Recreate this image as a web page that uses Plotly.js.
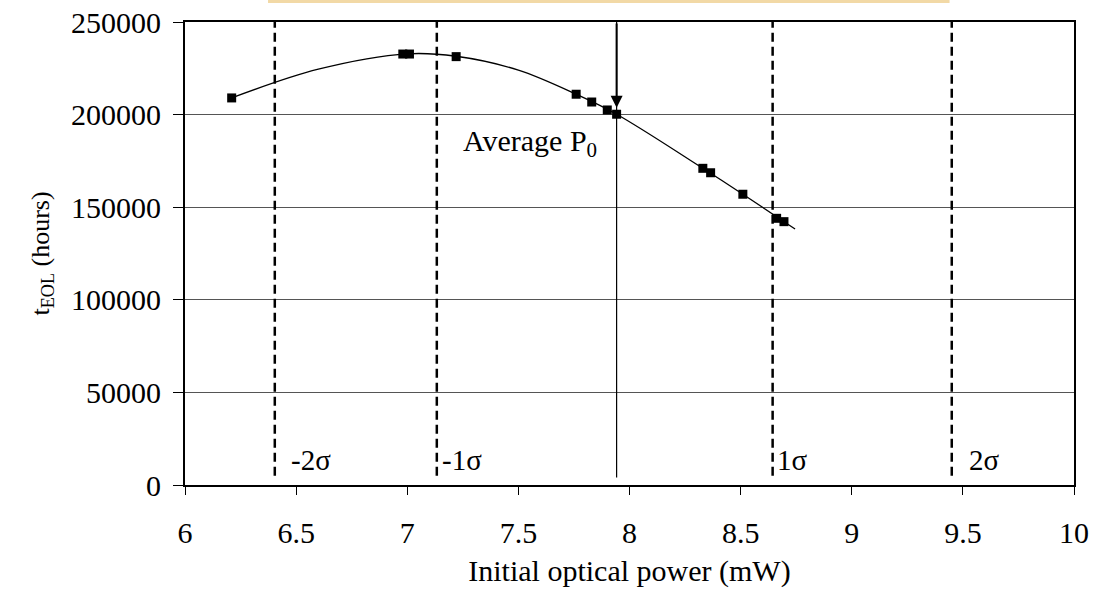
<!DOCTYPE html>
<html>
<head>
<meta charset="utf-8">
<script src="https://cdn.plot.ly/plotly-3.0.1.min.js"></script>
<style>html,body{margin:0;padding:0;background:#fff;}#chart{width:1101px;height:590px;}</style>
</head>
<body>
<div id="chart"></div>
<script>
// Measured data points (initial optical power in mW, t_EOL in hours)
var powerX = [6.21, 6.98, 7.01, 7.22, 7.76, 7.83, 7.90, 7.942, 8.33, 8.365, 8.51, 8.662, 8.695];
var teolY  = [209000, 232700, 232700, 231300, 211000, 206800, 202500, 200200, 171000, 168600, 157000, 144000, 142200];

// Smoothed fit curve
var curveX = [6.21, 6.6, 7.0, 7.22, 7.5, 7.76, 7.942, 8.33, 8.51, 8.745];
var curveY = [209000, 224500, 232800, 231500, 224000, 211000, 200200, 171000, 157000, 138200];

// Sigma boundaries
var sigmaX = [6.404, 7.133, 8.644, 9.45];
var sigmaLabels = ["-2σ", "-1σ", "1σ", "2σ"];
var sigmaLabelX = [6.47, 7.147, 8.655, 9.52];

// Average P0
var avgP0 = 7.942;
var avgArrowTip = 203700;
var yTop = 250000;

var FONT = "Liberation Serif, Times New Roman, serif";
var FS = 30;

var traces = [];
traces.push({x: curveX, y: curveY, mode: "lines", line: {color: "#000", width: 1.3, shape: "spline", smoothing: 1}, hoverinfo: "skip"});
sigmaX.forEach(function (sx) {
  traces.push({x: [sx, sx], y: [5000, yTop], mode: "lines", line: {color: "#000", width: 2.5, dash: "9px,5px"}, hoverinfo: "skip"});
});
traces.push({x: [avgP0, avgP0], y: [4000, yTop], mode: "lines", line: {color: "#000", width: 1.2}, hoverinfo: "skip"});
traces.push({x: powerX, y: teolY, mode: "markers", marker: {symbol: "square", size: 9, color: "#000"}});

var annotations = sigmaLabels.map(function (t, i) {
  return {x: sigmaLabelX[i], y: 13500, xref: "x", yref: "y", text: t, showarrow: false, xanchor: "left", yanchor: "middle", font: {family: FONT, size: 29, color: "#000"}};
});
annotations.push({x: 7.24, y: 184500, xref: "x", yref: "y", text: "Average P<sub>0</sub>", showarrow: false, xanchor: "left", yanchor: "middle", font: {family: FONT, size: FS, color: "#000"}});
annotations.push({x: avgP0, y: avgArrowTip, ax: avgP0, ay: yTop, xref: "x", yref: "y", axref: "x", ayref: "y", text: "", showarrow: true, arrowhead: 2, arrowsize: 1.2, arrowwidth: 2, arrowcolor: "#000"});

var layout = {
  width: 1101, height: 590,
  margin: {l: 185, r: 27, t: 22, b: 105},
  paper_bgcolor: "#fff", plot_bgcolor: "#fff",
  showlegend: false,
  font: {family: FONT, size: FS, color: "#000"},
  xaxis: {
    range: [6, 10], dtick: 0.5, tick0: 6, showgrid: false, zeroline: false,
    showline: true, linecolor: "#000", linewidth: 2, mirror: true,
    ticks: "outside", ticklen: 8, tickcolor: "#000", tickwidth: 1,
    ticklabelstandoff: 12,
    tickfont: {family: FONT, size: FS, color: "#000"},
    title: {text: "Initial optical power (mW)", font: {family: FONT, size: FS, color: "#000"}, standoff: 12}
  },
  yaxis: {
    range: [0, 250000], dtick: 50000, tick0: 0, tickformat: "d",
    showgrid: true, gridcolor: "#555", gridwidth: 1, zeroline: false,
    showline: true, linecolor: "#000", linewidth: 2, mirror: true,
    ticks: "outside", ticklen: 10, tickcolor: "#000", tickwidth: 1,
    ticklabelstandoff: 6,
    tickfont: {family: FONT, size: FS, color: "#000"},
    title: {text: "t<sub>EOL</sub> (hours)", font: {family: FONT, size: 26, color: "#000"}, standoff: 14}
  },
  shapes: [{type: "rect", xref: "paper", yref: "paper", x0: 0.0934, x1: 0.86, y0: 1.041, y1: 1.0475, fillcolor: "#f2d9a6", line: {width: 0}, layer: "above"}],
  annotations: annotations
};

Plotly.newPlot("chart", traces, layout, {displayModeBar: false, staticPlot: true});
</script>
</body>
</html>
